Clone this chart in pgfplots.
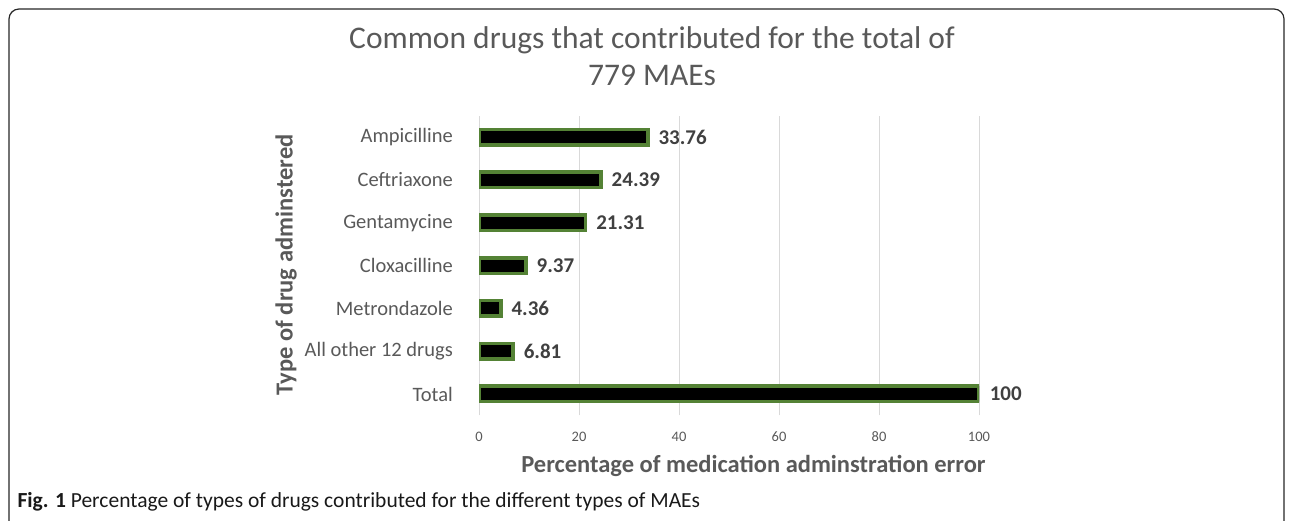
\documentclass[border=0pt]{standalone}
\usepackage{pgfplots}
\pgfplotsset{compat=1.18}
\usepackage{fontspec}
\setmainfont{Carlito}
\definecolor{bargreen}{HTML}{548235}
\definecolor{txtgray}{HTML}{595959}
\definecolor{lblgray}{HTML}{404040}
\definecolor{gridgray}{HTML}{D9D9D9}
\begin{document}
\begin{tikzpicture}[x=1pt,y=1pt]
\useasboundingbox (0,0) rectangle (1292,520);
\draw[line width=1.2pt, rounded corners=10pt, black!85] (9,-20) -- (9,511) -- (1284,511) -- (1284,-20);
\node[font=\fontsize{31.5}{37}\selectfont, text=txtgray, align=center] at (652,463.5) {Common drugs that contributed for the total of\\779 MAEs};
\begin{axis}[
  at={(479pt,104.6pt)}, anchor=south west,
  scale only axis, width=500pt, height=299.8pt,
  xbar, bar width=15.5pt,
  xmin=0, xmax=100, ymin=-0.5, ymax=6.5,
  ytick={0,...,6},
  yticklabels={Total, All other 12 drugs, Metrondazole, Cloxacilline, Gentamycine, Ceftriaxone, Ampicilline},
  xtick={0,20,...,100},
  xmajorgrids, grid style={gridgray, line width=0.8pt},
  axis line style={draw=none},
  major tick length=0pt, tick style={draw=none},
  /pgf/number format/assume math mode=true,
  yticklabel style={font=\fontsize{20.5}{24}\selectfont, text=txtgray, inner sep=0pt, xshift=-26pt},
  xticklabel style={font=\fontsize{14.5}{17}\selectfont, text=txtgray, inner sep=0pt, yshift=-16pt},
  xlabel={Percentage of medication adminstration error},
  xlabel style={font=\bfseries\fontsize{24.5}{28}\selectfont, text=txtgray, at={(axis description cs:0.549,0)}, anchor=center, yshift=-51pt},
  nodes near coords={\pgfmathprintnumber[fixed, precision=2, assume math mode=true]{\pgfplotspointmeta}},
  nodes near coords style={font=\bfseries\fontsize{21}{24}\selectfont, text=lblgray, anchor=west, inner sep=0pt, xshift=9pt},
]
\addplot[fill=black, draw=bargreen, line width=3.5pt] coordinates {(100,0) (6.81,1) (4.36,2) (9.37,3) (21.31,4) (24.39,5) (33.76,6)};
\end{axis}
\node[rotate=90, font=\bfseries\fontsize{24.5}{28}\selectfont, text=txtgray] at (286,255) {Type of drug adminstered};
\node[anchor=base west, font=\fontsize{21.5}{24}\selectfont, text=black!90] at (14,13) {\textbf{Fig. 1} Percentage of types of drugs contributed for the different types of MAEs};
\end{tikzpicture}
\end{document}
